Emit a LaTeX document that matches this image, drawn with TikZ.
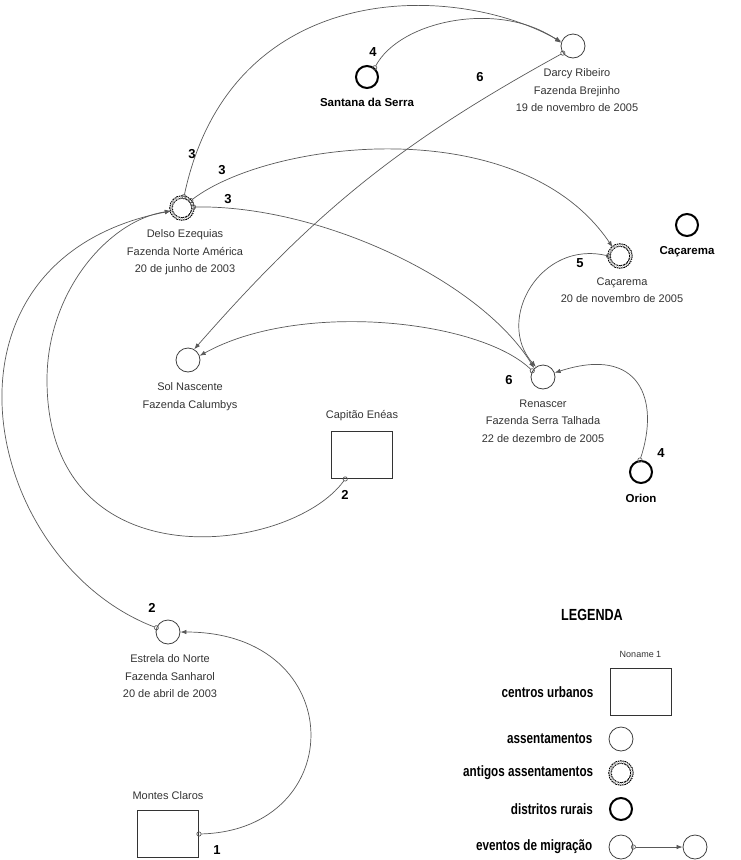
\documentclass[tikz,border=0pt]{standalone}
\usepackage{fontspec}
\setmainfont{Liberation Sans}
\usetikzlibrary{arrows.meta,positioning}
\tikzset{
	assent/.style={circle, draw=black!75, line width=0.8pt, minimum size=24pt, inner sep=0pt},
	antigo/.style={circle, draw=black, line width=1.1pt, dash pattern=on 1.3pt off 0.8pt, double=white, double distance=1.3pt, minimum size=22pt, inner sep=0pt},
	distrito/.style={circle, draw=black, line width=2pt, minimum size=22pt, inner sep=0pt},
	urbano/.style={rectangle, draw=black!80, line width=0.9pt, minimum width=61pt, minimum height=47pt},
	rotulo/.style={align=center, font=\fontsize{11}{17.5}\selectfont, text=black!80, inner sep=0pt},
	rotulob/.style={font=\bfseries\fontsize{11.5}{14}\selectfont, inner sep=0pt},
	num/.style={font=\bfseries\fontsize{13}{15}\selectfont, inner sep=0pt},
	migra/.style={draw=black!65, line width=0.7pt, shorten <=-2.5pt, {Circle[open,length=5pt,width=5pt]}-{Latex[length=6pt,width=4.5pt]}},
	legtxt/.style={font=\bfseries\fontsize{13}{15}\selectfont, inner sep=0pt}
}
\newcommand{\legstretch}[1]{\scalebox{0.9}[1.15]{#1}}

\begin{document}
\begin{tikzpicture}[x=1pt,y=-1pt]
	\useasboundingbox (0,0) rectangle (741,860);

	% assentamentos e distritos
	\node[assent] (darcy) at (573,46) {};
	\node[rotulo, below=10pt of darcy, xshift=4pt] (darcyl) {Darcy Ribeiro\\Fazenda Brejinho\\19 de novembro de 2005};
	\node[distrito] (santana) at (367,77) {};
	\node[rotulob, below=9pt of santana] (santanal) {Santana da Serra};
	\node[antigo] (delso) at (182,208) {};
	\node[rotulo, below=10pt of delso, xshift=3pt] (delsol) {Delso Ezequias\\Fazenda Norte América\\20 de junho de 2003};
	\node[antigo] (caca) at (620,256) {};
	\node[rotulo, below=10pt of caca, xshift=2pt] (cacal) {Caçarema\\20 de novembro de 2005};
	\node[distrito] (cacd) at (687,225) {};
	\node[rotulob, below=9pt of cacd] (cacdl) {Caçarema};
	\node[assent] (sol) at (188,360) {};
	\node[rotulo, below=10pt of sol, xshift=2pt] (soll) {Sol Nascente\\Fazenda Calumbys};
	\node[urbano] (capitao) at (362,455) {};
	\node[rotulo, above=10pt of capitao] (capitaol) {Capitão Enéas};
	\node[assent] (renascer) at (543,377) {};
	\node[rotulo, below=10pt of renascer] (renascerl) {Renascer\\Fazenda Serra Talhada\\22 de dezembro de 2005};
	\node[distrito] (orion) at (641,472) {};
	\node[rotulob, below=10pt of orion] (orionl) {Orion};
	\node[assent] (estrela) at (168,632) {};
	\node[rotulo, below=10pt of estrela, xshift=2pt] (estrelal) {Estrela do Norte\\Fazenda Sanharol\\20 de abril de 2003};
	\node[urbano] (montes) at (168,834) {};
	\node[rotulo, above=10pt of montes] (montesl) {Montes Claros};

	% eventos de migracao
	\draw[migra] (montes.east) .. controls (350,830) and (350,632) .. (estrela.east);
	\draw[migra] (estrela.160) .. controls (-20,560) and (-80,260) .. (delso.195);
	\draw[migra] (capitao.235) .. controls (290,555) and (47,585) .. (47,380) .. controls (47,290) and (110,220) .. (delso.195);
	\draw[migra] (delso.80) .. controls (230,-20) and (450,-20) .. (darcy.160);
	\draw[migra] (delso.40) .. controls (270,140) and (520,110) .. (caca.130);
	\draw[migra] (delso.5) .. controls (320,205) and (480,280) .. (renascer.135);
	\draw[migra] (santana.50) .. controls (400,20) and (500,0) .. (darcy.165);
	\draw[migra] (darcy.215) to[bend right=10] (sol.60);
	\draw[migra] (renascer.150) .. controls (480,320) and (300,300) .. (sol.20);
	\draw[migra] (caca.180) .. controls (540,240) and (495,320) .. (renascer.125);
	\draw[migra] (orion.95) .. controls (660,400) and (640,345) .. (renascer.20);

	\node[num] (n1) at (217,850) {1};
	\node[num] (n2a) at (152,608) {2};
	\node[num] (n2b) at (345,495) {2};
	\node[num] (n3a) at (192,154) {3};
	\node[num] (n3b) at (222,170) {3};
	\node[num] (n3c) at (228,199) {3};
	\node[num] (n4a) at (373,52) {4};
	\node[num] (n4b) at (661,453) {4};
	\node[num] (n5) at (580,263) {5};
	\node[num] (n6a) at (480,77) {6};
	\node[num] (n6b) at (509,380) {6};

	% legenda
	\node[font=\bfseries\fontsize{14}{16}\selectfont] (legenda) at (592,615) {\legstretch{LEGENDA}};
	\node[urbano] (legurb) at (640.5,692) {};
	\node[rotulo, font=\fontsize{9}{11}\selectfont, above=10pt of legurb] (noname) {Noname 1};
	\node[assent] (legass) at (621,739) {};
	\node[antigo] (legant) at (621,773) {};
	\node[distrito] (legdis) at (621,809) {};
	\node[assent] (legev1) at (621,847) {};
	\node[assent] (legev2) at (695,847) {};
	\draw[migra] (legev1) -- (legev2);
	\node[legtxt, left=16pt of legurb] (turb) {\legstretch{centros urbanos}};
	\node[legtxt, left=16pt of legass] (tass) {\legstretch{assentamentos}};
	\node[legtxt, left=16pt of legant] (tant) {\legstretch{antigos assentamentos}};
	\node[legtxt, left=16pt of legdis] (tdis) {\legstretch{distritos rurais}};
	\node[legtxt, left=16pt of legev1] (tev) {\legstretch{eventos de migração}};
\end{tikzpicture}
\end{document}
